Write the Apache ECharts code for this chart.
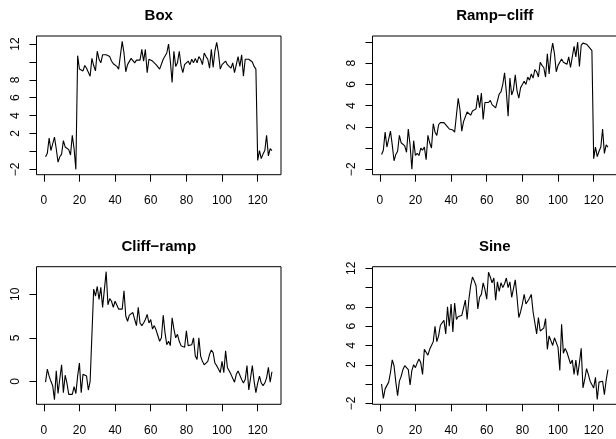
<!DOCTYPE html>
<html>
<head>
<meta charset="utf-8">
<script src="https://cdn.jsdelivr.net/npm/echarts@6/dist/echarts.min.js"></script>
<style>
  html, body { margin: 0; padding: 0; background: #fff; }
  #chart { width: 616px; height: 439px; }
</style>
</head>
<body>
<div id="chart"></div>
<script>
// series values, index 1..128
const boxValues = [
  -0.6, -0.2, 1.5, 0.1, 0.2, 1.6, 0.3, -1.2, -0.6, -0.3, 1.2, 0.5, 0.4, 0.2, -0.4, 1.8, 0.3, -2.0,
  10.7, 9.2, 9.3, 9.0, 9.6, 9.3, 9.5, 8.4, 10.4, 9.6,
  9.0, 11.2, 10.3, 9.9, 10.8, 10.9, 10.8, 10.7, 10.6, 10.1,
  9.8, 9.6, 9.5, 9.2, 9.0, 12.3, 11.0, 8.9, 9.7, 9.5,
  10.4, 10.3, 9.9, 10.2, 10.1, 10.2, 11.4, 10.1, 11.4, 8.8,
  10.3, 10.3, 10.1, 10.2, 9.7, 9.6, 9.2, 9.1, 10.3, 10.4,
  11.0, 12.0, 10.1, 7.7, 11.2, 9.5, 9.9, 11.2, 9.6, 8.8,
  9.7, 9.9, 10.1, 9.7, 10.3, 9.9, 10.4, 9.9, 10.6, 10.3,
  9.7, 11.0, 10.6, 10.3, 9.3, 11.4, 9.4, 11.2, 12.2, 11.0,
  9.2, 9.7, 9.5, 10.1, 9.7, 9.5, 9.3, 9.9, 8.8, 9.7,
  10.6, 9.5, 10.8, 8.4, 10.3, 10.4, 10.3, 10.1, 10.0, 9.5,
  9.2,
  -1.0, 0.1, -0.8, -0.3, 0.1, 1.8, -0.5, 0.3, 0.1
];
const rampCliffValues = [
  -0.6, -0.2, 1.5, 0.1, 0.2, 1.6, 0.3, -1.2, -0.6, -0.3, 1.2, 0.5, 0.4, 0.2, -0.4, 1.8, 0.3, -2.0,
  0.7, -0.7, -0.5, -0.7, 0.0, -0.2, 0.1, -1.1, 1.2, 0.5,
  0.0, 2.3, 1.5, 1.2, 2.2, 2.4, 2.4, 2.4, 2.4, 2.0,
  1.8, 1.7, 1.7, 1.5, 1.4, 4.7, 3.6, 1.6, 2.5, 2.4,
  3.4, 3.4, 3.1, 3.5, 3.5, 3.7, 5.0, 3.8, 5.2, 2.7,
  4.3, 4.4, 4.3, 4.5, 4.1, 4.1, 3.8, 3.8, 5.1, 5.3,
  6.0, 7.1, 5.3, 3.0, 6.6, 5.0, 5.5, 6.9, 5.4, 4.7,
  5.7, 6.0, 6.3, 6.0, 6.7, 6.4, 7.0, 6.6, 7.4, 7.2,
  6.7, 8.1, 7.8, 7.6, 6.7, 8.9, 7.0, 8.9, 9.9, 8.9,
  7.2, 7.8, 7.7, 8.4, 8.1, 8.0, 7.9, 8.6, 7.6, 8.6,
  9.6, 8.6, 10.0, 7.7, 9.7, 9.9, 9.9, 9.8, 9.8, 9.4,
  9.2,
  -1.0, 0.1, -0.8, -0.3, 0.1, 1.8, -0.5, 0.3, 0.1
];
const cliffRampValues = [
  -0.1, 1.4, 0.6, 0.0, -0.5, -2.1, 1.2, -1.4, 0.3, 1.9,
  -1.3, 0.7, -0.2, -1.5, -1.5, -1.5, -0.6, -1.4, 0.6, 2.1,
  -1.3, 0.8, 0.9, 0.6, -1.0, 0.0, -0.2, 10.6, 9.8, 10.9,
  9.4, 10.8, 8.5, 8.3, 12.6, 8.8, 9.5, 9.2, 8.5, 9.2,
  9.0, 8.3, 8.5, 8.3, 10.4, 7.5, 6.9, 7.6, 7.8, 7.9,
  7.1, 6.4, 8.5, 6.7, 6.4, 6.7, 7.1, 7.7, 6.7, 7.1,
  6.0, 6.4, 5.9, 5.8, 4.6, 5.0, 7.6, 5.6, 4.2, 4.6,
  4.1, 7.3, 6.0, 5.0, 5.4, 4.6, 4.1, 3.9, 3.9, 5.8,
  4.1, 4.1, 4.2, 5.0, 2.9, 2.5, 5.0, 2.9, 2.3, 1.9,
  1.8, 2.3, 3.1, 3.6, 3.3, 2.1, 1.8, 1.9, 1.0, 2.3,
  1.0, 3.5, 1.6, 1.8, 0.8, 0.6, -0.1, 0.8, 1.2, 1.1,
  0.2, -0.2, 0.2, 1.8, -1.0, 0.4, 1.8, 0.0, -1.3, -0.2,
  0.6, -0.2, -0.5, -0.2, 0.4, 1.6, -0.1, 1.1
];
const sineValues = [
  0.0, -1.5, -0.5, -0.4, 0.2, 1.2, 2.5, 1.9, 0.2, -1.2,
  0.3, 0.8, 1.5, 1.9, 1.9, 1.5, -0.1, 1.4, 2.0, 1.7,
  2.2, 2.6, 2.2, 1.0, 3.6, 3.3, 3.0, 3.6, 4.0, 4.4,
  6.0, 4.4, 5.0, 6.1, 6.3, 6.6, 5.2, 8.0, 6.0, 8.3,
  5.4, 8.4, 6.7, 7.0, 7.0, 7.1, 7.2, 8.7, 6.7, 8.8,
  10.2, 11.1, 10.7, 10.2, 7.8, 9.0, 9.3, 10.5, 9.8, 8.8,
  11.6, 11.1, 10.5, 11.0, 8.7, 10.6, 9.6, 10.5, 10.0, 10.4,
  11.0, 10.0, 10.6, 9.0, 9.2, 10.8, 9.0, 6.9, 7.5, 8.3,
  9.3, 8.3, 8.5, 8.9, 9.3, 7.5, 7.3, 5.2, 6.9, 5.5,
  5.3, 5.8, 6.8, 3.6, 5.0, 5.0, 4.0, 4.8, 4.6, 3.8,
  1.4, 6.2, 3.2, 3.7, 3.3, 3.5, 2.1, 2.5, 1.0, 2.5,
  0.9, 2.2, 3.7, -0.4, 0.5, 1.6, 1.0, 0.3, 0.1, -0.4,
  0.7, -1.6, 0.2, 0.2, 0.3, -1.1, 0.4, 1.5
];

// titles and ticks
const titles = ['Box', 'Ramp\u2212cliff', 'Cliff\u2212ramp', 'Sine'];
const xTicks = [0, 20, 40, 60, 80, 100, 120];
const yTicksList = [
  [-2, 0, 2, 4, 6, 8, 10, 12],
  [-2, 0, 2, 4, 6, 8, 10],
  [0, 5, 10],
  [-2, 0, 2, 4, 6, 8, 10, 12]
];
const yLabelsList = [
  [-2, 2, 4, 6, 8, 12],
  [-2, 2, 4, 6, 8],
  [0, 5, 10],
  [-2, 2, 4, 6, 8, 12]
];

const seriesValues = [boxValues, rampCliffValues, cliffRampValues, sineValues];

// layout (R-like panels); right panels run past the canvas edge
const xRange = [-4.08, 133.08];
const yRanges = [[-2.6, 12.9], [-2.51, 10.57], [-2.64, 13.17], [-2.1, 12.17]];
const boxes = [
  { left: 36.5, top: 36, width: 244.5, height: 138.7 },
  { left: 372.5, top: 36, width: 244.5, height: 138.7 },
  { left: 36.5, top: 266.7, width: 244.5, height: 137.6 },
  { left: 372.5, top: 266.7, width: 244.5, height: 137.6 }
];
const titleTops = [8, 8, 239, 239];

const fontFamily = '"Liberation Sans", Arial, Helvetica, sans-serif';
const minus = v => String(v).replace('-', '\u2212');

let grid = [], xAxis = [], yAxis = [], series = [], title = [];
boxes.forEach((b, i) => {
  grid.push({
    left: b.left, top: b.top, width: b.width, height: b.height,
    show: true, borderColor: '#000', borderWidth: 1,
    containLabel: false, outerBoundsMode: 'none'
  });
  xAxis.push({
    type: 'value', gridIndex: i, position: 'bottom',
    min: xRange[0], max: xRange[1],
    axisLine: { show: false, onZero: false },
    splitLine: { show: false },
    axisTick: { show: true, inside: false, length: 7, customValues: xTicks, lineStyle: { color: '#000' } },
    axisLabel: {
      customValues: xTicks, margin: 20, hideOverlap: false,
      color: '#000', fontSize: 12, fontFamily: fontFamily,
      formatter: minus
    }
  });
  yAxis.push({
    type: 'value', gridIndex: i, position: 'left',
    min: yRanges[i][0], max: yRanges[i][1],
    axisLine: { show: false, onZero: false },
    splitLine: { show: false },
    axisTick: { show: true, inside: false, length: 7, customValues: yTicksList[i], lineStyle: { color: '#000' } },
    axisLabel: {
      customValues: yLabelsList[i], margin: 15, rotate: 90,
      color: '#000', fontSize: 12, fontFamily: fontFamily,
      formatter: minus
    }
  });
  series.push({
    type: 'line', xAxisIndex: i, yAxisIndex: i,
    data: seriesValues[i].map((v, k) => [k + 1, v]),
    symbol: 'none', silent: true,
    lineStyle: { color: '#000', width: 1.1 }
  });
  title.push({
    text: titles[i],
    left: b.left + b.width / 2, top: titleTops[i],
    textAlign: 'center', padding: 0,
    textStyle: { color: '#000', fontSize: 15, fontWeight: 'bold', fontFamily: fontFamily }
  });
});

let chart = echarts.init(document.getElementById('chart'), null, { renderer: 'canvas' });
chart.setOption({
  animation: false,
  backgroundColor: '#fff',
  title: title,
  grid: grid,
  xAxis: xAxis,
  yAxis: yAxis,
  series: series
});
</script>
</body>
</html>
